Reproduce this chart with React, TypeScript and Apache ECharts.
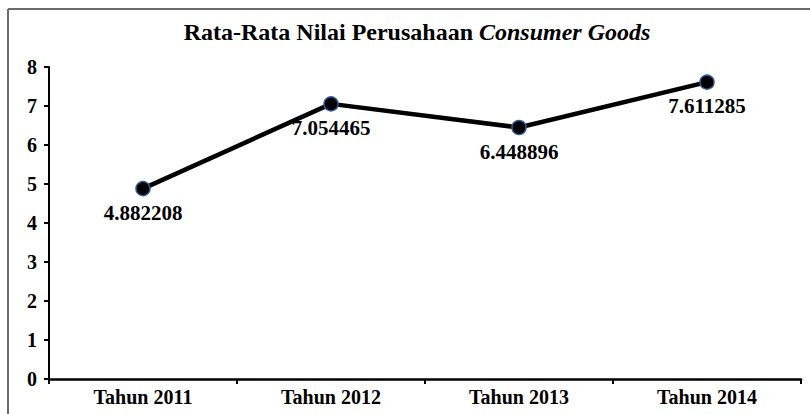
import React, { useEffect, useRef } from "react";
import * as echarts from "echarts";

const categories = ["Tahun 2011", "Tahun 2012", "Tahun 2013", "Tahun 2014"];
const values = [4.882208, 7.054465, 6.448896, 7.611285];
const titleMain = "Rata-Rata Nilai Perusahaan ";
const titleItalic = "Consumer Goods";

const FONT = "'Liberation Serif', 'Times New Roman', serif";

export default function App() {
  const ref = useRef<HTMLDivElement>(null);
  useEffect(() => {
    if (!ref.current) return;
    const chart = echarts.init(ref.current, null, { renderer: "svg" });
    chart.setOption({
      animation: false,
      backgroundColor: "#ffffff",
      title: {
        text: `{a|${titleMain}}{b|${titleItalic}}`,
        left: 412,
        top: 15,
        textAlign: "center",
        textStyle: {
          rich: {
            a: { fontFamily: FONT, fontWeight: "bold", fontSize: 24, color: "#000" },
            b: { fontFamily: FONT, fontWeight: "bold", fontStyle: "italic", fontSize: 24, color: "#000" },
          },
        },
      },
      graphic: [
        { type: "line", shape: { x1: 8, y1: 9, x2: 810, y2: 9 }, style: { stroke: "#6b6b6b", lineWidth: 2 } },
        { type: "line", shape: { x1: 8, y1: 9, x2: 8, y2: 414 }, style: { stroke: "#6b6b6b", lineWidth: 2 } },
      ],
      grid: { left: 49, right: 9, top: 67, bottom: 35, containLabel: false },
      xAxis: {
        type: "category",
        data: categories,
        boundaryGap: true,
        axisLine: { lineStyle: { color: "#000", width: 2.5 } },
        axisTick: { show: true, length: 5, inside: false, alignWithLabel: false, lineStyle: { color: "#000", width: 2 } },
        axisLabel: { fontFamily: FONT, fontWeight: "bold", fontSize: 20, color: "#000", margin: 8 },
        splitLine: { show: false },
      },
      yAxis: {
        type: "value",
        min: 0,
        max: 8,
        interval: 1,
        axisLine: { show: true, lineStyle: { color: "#000", width: 2 } },
        axisTick: { show: true, length: 5, inside: false, lineStyle: { color: "#000", width: 2 } },
        axisLabel: { fontFamily: FONT, fontWeight: "bold", fontSize: 20, color: "#000", margin: 12 },
        splitLine: { show: false },
      },
      series: [
        {
          type: "line",
          data: values,
          symbol: "circle",
          symbolSize: 14,
          itemStyle: { color: "#000", borderColor: "#2e5c9a", borderWidth: 1.5 },
          lineStyle: { color: "#000", width: 4.5 },
          label: {
            show: true,
            position: "bottom",
            distance: 6,
            fontFamily: FONT,
            fontWeight: "bold",
            fontSize: 21,
            color: "#000",
            formatter: (p: any) => String(p.value),
          },
        },
      ],
    });
    return () => chart.dispose();
  }, []);
  return (
    <div
      ref={ref}
      style={{ position: "absolute", left: 0, top: 0, width: 810, height: 414, background: "#fff" }}
    />
  );
}
